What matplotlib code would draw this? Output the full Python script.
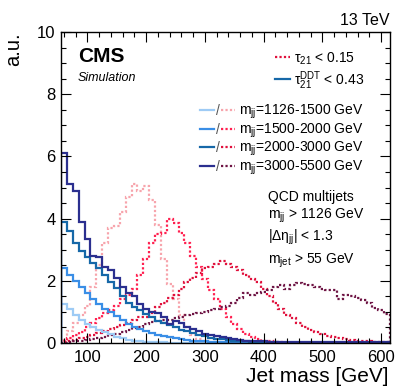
import numpy as np
import matplotlib
matplotlib.use("Agg")
import matplotlib.pyplot as plt
from matplotlib.lines import Line2D

plt.rcParams['font.family'] = ['Liberation Sans', 'DejaVu Sans']
plt.rcParams['mathtext.fontset'] = 'custom'
plt.rcParams['mathtext.rm'] = 'Liberation Sans'
plt.rcParams['mathtext.it'] = 'Liberation Sans:italic'
plt.rcParams['mathtext.bf'] = 'Liberation Sans:bold'

# ---------------- data ----------------
bin_edges = np.arange(55, 616, 10)  # jet mass bins [GeV]

mjj_labels = ["1126-1500", "1500-2000", "2000-3000", "3000-5500"]

# tau21^DDT < 0.43 (solid)
ddt_1126 = [1.25, 1.08, 0.9, 0.75, 0.62, 0.52, 0.42, 0.35, 0.28, 0.2,
            0.15, 0.1, 0.07, 0.05, 0.04, 0.03, 0.02, 0.02, 0.01, 0.01,
            0.01, 0.01, 0.0, 0.0, 0.0, 0.0, 0.0, 0.0, 0.0, 0.0,
            0.0, 0.0, 0.0, 0.0, 0.0, 0.0, 0.0, 0.0, 0.0, 0.0,
            0.0, 0.0, 0.0, 0.0, 0.0, 0.0, 0.0, 0.0, 0.0, 0.0,
            0.0, 0.0, 0.0, 0.0, 0.0, 0.0]
ddt_1500 = [2.4, 2.2, 2.0, 1.8, 1.6, 1.4, 1.25, 1.1, 1.0, 0.88,
            0.75, 0.62, 0.52, 0.45, 0.38, 0.33, 0.27, 0.22, 0.18, 0.15,
            0.12, 0.1, 0.08, 0.06, 0.05, 0.04, 0.03, 0.03, 0.02, 0.02,
            0.01, 0.01, 0.01, 0.01, 0.0, 0.0, 0.0, 0.0, 0.0, 0.0,
            0.0, 0.0, 0.0, 0.0, 0.0, 0.0, 0.0, 0.0, 0.0, 0.0,
            0.0, 0.0, 0.0, 0.0, 0.0, 0.0]
ddt_2000 = [3.9, 3.6, 3.2, 2.95, 2.75, 2.57, 2.4, 2.2, 1.97, 1.76,
            1.5, 1.3, 1.15, 1.05, 0.92, 0.82, 0.72, 0.65, 0.58, 0.5,
            0.43, 0.37, 0.32, 0.27, 0.22, 0.17, 0.14, 0.12, 0.1, 0.08,
            0.07, 0.05, 0.04, 0.03, 0.03, 0.02, 0.02, 0.01, 0.01, 0.01,
            0.01, 0.01, 0.01, 0.01, 0.01, 0.01, 0.01, 0.01, 0.01, 0.01,
            0.01, 0.01, 0.01, 0.01, 0.01, 0.01]
ddt_3000 = [6.1, 5.1, 4.9, 3.9, 3.35, 2.8, 2.75, 2.45, 2.35, 2.1,
            1.8, 1.6, 1.5, 1.25, 1.1, 1.0, 0.95, 0.85, 0.6, 0.72,
            0.65, 0.52, 0.45, 0.4, 0.28, 0.25, 0.22, 0.2, 0.15, 0.12,
            0.1, 0.08, 0.07, 0.06, 0.05, 0.04, 0.03, 0.03, 0.02, 0.02,
            0.02, 0.02, 0.02, 0.02, 0.02, 0.02, 0.02, 0.02, 0.02, 0.02,
            0.02, 0.02, 0.02, 0.02, 0.02, 0.02]

# tau21 < 0.15 (dotted)
t21_1126 = [0.1, 0.4, 0.65, 0.9, 1.2, 1.8, 2.5, 3.2, 3.7, 3.75,
            4.2, 4.7, 5.1, 4.9, 5.05, 4.6, 3.8, 2.7, 1.9, 1.4,
            0.9, 0.5, 0.25, 0.12, 0.06, 0.03, 0.02, 0.01, 0.01, 0.0,
            0.0, 0.0, 0.0, 0.0, 0.0, 0.0, 0.0, 0.0, 0.0, 0.0,
            0.0, 0.0, 0.0, 0.0, 0.0, 0.0, 0.0, 0.0, 0.0, 0.0,
            0.0, 0.0, 0.0, 0.0, 0.0, 0.0]
t21_1500 = [0.05, 0.15, 0.25, 0.35, 0.5, 0.65, 0.8, 0.95, 1.05, 1.2,
            1.4, 1.55, 1.75, 2.2, 2.7, 3.2, 3.5, 3.55, 4.0, 3.85,
            3.55, 3.2, 2.8, 2.45, 2.05, 1.7, 1.4, 1.1, 0.85, 0.6,
            0.45, 0.3, 0.2, 0.12, 0.08, 0.05, 0.03, 0.02, 0.01, 0.01,
            0.0, 0.0, 0.0, 0.0, 0.0, 0.0, 0.0, 0.0, 0.0, 0.0,
            0.0, 0.0, 0.0, 0.0, 0.0, 0.0]
t21_2000 = [0.02, 0.05, 0.1, 0.15, 0.2, 0.25, 0.32, 0.4, 0.45, 0.5,
            0.58, 0.65, 0.75, 0.85, 0.85, 0.95, 1.15, 1.3, 1.45, 1.55,
            1.75, 1.95, 2.1, 2.25, 2.4, 2.45, 2.55, 2.65, 2.55, 2.45,
            2.35, 2.2, 2.05, 1.95, 1.75, 1.5, 1.3, 1.1, 0.9, 0.8,
            0.65, 0.5, 0.42, 0.35, 0.3, 0.22, 0.18, 0.15, 0.12, 0.1,
            0.08, 0.06, 0.05, 0.04, 0.03, 0.02]
t21_3000 = [0.01, 0.03, 0.05, 0.08, 0.1, 0.13, 0.16, 0.2, 0.25, 0.3,
            0.35, 0.42, 0.48, 0.52, 0.6, 0.68, 0.72, 0.75, 0.75, 0.8,
            0.85, 0.9, 0.93, 0.95, 1.0, 1.05, 1.1, 1.15, 1.2, 1.3,
            1.45, 1.6, 1.55, 1.6, 1.65, 1.7, 1.8, 1.85, 1.75, 1.85,
            1.92, 1.9, 1.85, 1.8, 1.75, 1.7, 1.72, 1.4, 1.55, 1.5,
            1.45, 1.38, 1.3, 1.12, 1.05, 0.92]

ddt_series = [ddt_1126, ddt_1500, ddt_2000, ddt_3000]
t21_series = [t21_1126, t21_1500, t21_2000, t21_3000]

ddt_colors = ['#9ecbf5', '#3a8ee6', '#1668a8', '#2b2f8f']
t21_colors = ['#f7a4ac', '#ff2050', '#e0103c', '#6e1444']

# ---------------- figure ----------------
W, H = 407, 391
fig = plt.figure(figsize=(W / 100, H / 100), dpi=100)

def fx(x):
    return x / W

def fy(y):
    return 1 - y / H

ax = fig.add_axes([fx(61), fy(343), (390 - 61) / W, (343 - 32) / H])

dot = (0, (1, 1))
for vals, c in zip(t21_series, t21_colors):
    ax.stairs(vals, bin_edges, color=c, lw=1.6, linestyle=dot)
for vals, c in zip(ddt_series, ddt_colors):
    ax.stairs(vals, bin_edges, color=c, lw=1.6)

ax.set_xlim(55, 615)
ax.set_ylim(0, 10)
ax.set_xticks([100, 200, 300, 400, 500, 600])
ax.set_xticks(np.arange(60, 615, 20), minor=True)
ax.set_yticks([0, 2, 4, 6, 8, 10])
ax.set_yticks(np.arange(0, 10.01, 0.5), minor=True)
ax.tick_params(which='both', direction='in', top=True, right=True,
               labelsize=12, width=0.8)
ax.tick_params(which='major', length=7)
ax.tick_params(which='minor', length=3.5)
ax.tick_params(axis='x', pad=5)
ax.tick_params(axis='y', pad=4)
for s in ax.spines.values():
    s.set_linewidth(1.0)

# axis titles
fig.text(fx(389), fy(382), 'Jet mass [GeV]', ha='right', va='baseline', fontsize=15)
fig.text(fx(23), fy(32), 'a.u.', ha='right', va='top', rotation=90, fontsize=14.5)
fig.text(fx(389), fy(25), '13 TeV', ha='right', va='baseline', fontsize=11.5)

# CMS labels
fig.text(fx(78), fy(62), 'CMS', ha='left', va='baseline', fontsize=15, fontweight='bold')
fig.text(fx(78), fy(81), 'Simulation', ha='left', va='baseline', fontsize=9, style='italic')

# legend 1
fs_leg = 10
fig.add_artist(Line2D([fx(275), fx(290)], [fy(57), fy(57)], color=t21_colors[2], lw=1.6, linestyle=dot))
fig.text(fx(294), fy(62.5), r'$\mathregular{τ_{21}}$ < 0.15', ha='left', va='baseline', fontsize=fs_leg)
fig.add_artist(Line2D([fx(275), fx(290)], [fy(79), fy(79)], color=ddt_colors[2], lw=1.6))
fig.text(fx(294), fy(85), r'$\mathregular{τ_{21}^{DDT}}$ < 0.43', ha='left', va='baseline', fontsize=fs_leg)

# legend 2
rows_y = [110, 129, 147, 166]
for lab, cs, cd, yy in zip(mjj_labels, ddt_colors, t21_colors, rows_y):
    fig.add_artist(Line2D([fx(200), fx(214)], [fy(yy), fy(yy)], color=cs, lw=1.6))
    fig.text(fx(215.5), fy(yy + 5), '/', ha='left', va='baseline', fontsize=fs_leg, color='#555555')
    fig.add_artist(Line2D([fx(221), fx(235)], [fy(yy), fy(yy)], color=cd, lw=1.6, linestyle=dot))
    fig.text(fx(239), fy(yy + 5), r'$\mathregular{m_{jj}}$=' + lab + ' GeV',
             ha='left', va='baseline', fontsize=fs_leg)

# selection text
fig.text(fx(268), fy(201), 'QCD multijets', ha='left', va='baseline', fontsize=10)
fig.text(fx(268), fy(219), r'$\mathregular{m_{jj}}$ > 1126 GeV', ha='left', va='baseline', fontsize=10)
fig.text(fx(268), fy(241), r'$\mathregular{|Δη_{jj}|}$ < 1.3', ha='left', va='baseline', fontsize=10)
fig.text(fx(268), fy(264), r'$\mathregular{m_{jet}}$ > 55 GeV', ha='left', va='baseline', fontsize=10)

fig.savefig('out.png', dpi=100)
